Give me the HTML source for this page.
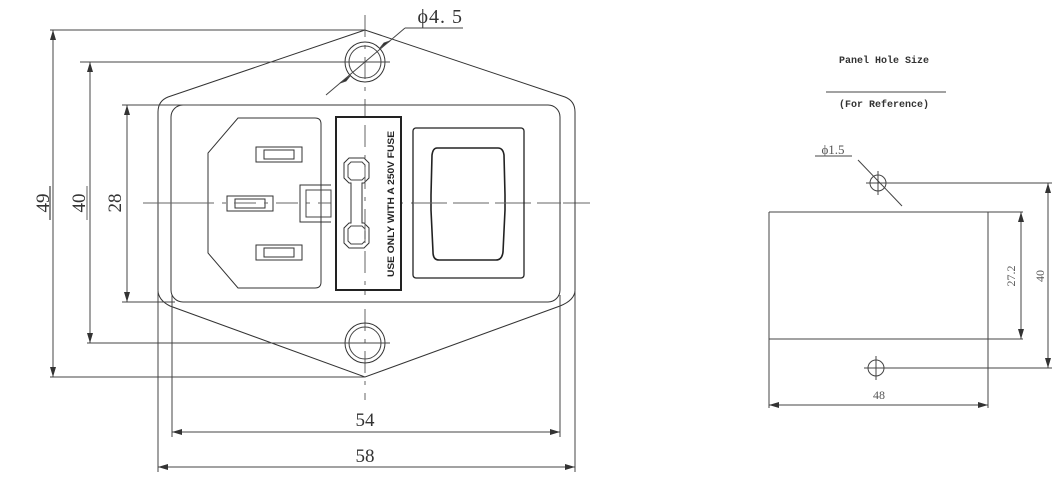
<!DOCTYPE html>
<html><head><meta charset="utf-8"><style>
html,body{margin:0;padding:0;background:#fff;}
svg{display:block;}
</style></head><body>
<svg width="1056" height="482" viewBox="0 0 1056 482" xmlns="http://www.w3.org/2000/svg">
<defs>
<marker id="a" viewBox="0 0 10 6" refX="10" refY="3" markerWidth="10" markerHeight="6" orient="auto-start-reverse" markerUnits="userSpaceOnUse"><path d="M0,0 L10,3 L0,6 Z" fill="#333"/></marker>
</defs>
<g fill="none" stroke="#444" stroke-width="1">
<!-- center lines -->
<line x1="143" y1="203" x2="590" y2="203" stroke-dasharray="22,8,4,8" stroke="#666"/>
<line x1="365" y1="15" x2="365" y2="400" stroke-dasharray="22,8,4,8" stroke="#666"/>
<!-- hexagon -->
<path d="M365,30 L168,97 Q158,101 158,112 L158,290 Q158,300 170,306 L365,377 L560,306 Q575,300 575,290 L575,112 Q575,101 565,97 Z" stroke="#333"/>
<rect x="171" y="105" width="389" height="197" rx="12" fill="#fff" stroke="#333"/>
<line x1="365" y1="105" x2="365" y2="302" stroke-dasharray="22,8,4,8" stroke="#666"/>
<line x1="171" y1="203" x2="560" y2="203" stroke-dasharray="22,8,4,8" stroke="#666"/>
<!-- holes -->
<circle cx="365" cy="62" r="20" stroke="#333"/><circle cx="365" cy="62" r="16"/>
<circle cx="365" cy="343" r="20" stroke="#333"/><circle cx="365" cy="343" r="16"/>
<line x1="340" y1="62" x2="390" y2="62"/><line x1="340" y1="343" x2="390" y2="343"/>
<!-- phi leader -->
<line x1="326" y1="95" x2="405" y2="28"/><line x1="405" y1="28" x2="463" y2="28"/>
<path d="M340,83 L350,76 L346,81 Z" fill="#222"/><path d="M390,41 L380,48 L384,43 Z" fill="#222"/>
<!-- extension lines -->
<line x1="50" y1="30" x2="365" y2="30"/>
<line x1="80" y1="62" x2="345" y2="62"/>
<line x1="122" y1="105" x2="200" y2="105"/>
<line x1="122" y1="302" x2="175" y2="302"/>
<line x1="87" y1="343" x2="345" y2="343"/>
<line x1="50" y1="377" x2="365" y2="377"/>
<line x1="53" y1="30" x2="53" y2="377" marker-start="url(#a)" marker-end="url(#a)"/>
<line x1="90" y1="62" x2="90" y2="343" marker-start="url(#a)" marker-end="url(#a)"/>
<line x1="127" y1="105" x2="127" y2="302" marker-start="url(#a)" marker-end="url(#a)"/>
<line x1="158" y1="290" x2="158" y2="472"/><line x1="575" y1="290" x2="575" y2="472"/>
<line x1="172" y1="295" x2="172" y2="437"/><line x1="560" y1="295" x2="560" y2="437"/>
<line x1="172" y1="432" x2="560" y2="432" marker-start="url(#a)" marker-end="url(#a)"/>
<line x1="158" y1="467" x2="575" y2="467" marker-start="url(#a)" marker-end="url(#a)"/>
<!-- inlet -->
<path d="M238,118 L315,118 Q321,118 321,124 L321,282 Q321,288 315,288 L238,288 L208,253 L208,153 Z" fill="#fff" stroke="#333"/>
<g stroke="#333">
<rect x="256" y="147" width="46" height="15"/><rect x="264" y="150" width="30" height="9"/>
<rect x="227" y="196" width="46" height="15"/><rect x="235" y="199" width="30" height="9"/>
<rect x="256" y="245" width="46" height="15"/><rect x="264" y="248" width="30" height="9"/>
</g>
<line x1="150" y1="203" x2="330" y2="203" stroke-dasharray="22,8,4,8" stroke="#666"/>
<!-- tab -->
<path d="M331,185 L300,185 L300,222 L331,222" stroke="#333"/>
<rect x="306" y="190" width="25" height="27"/>
<!-- fuse box -->
<rect x="336" y="117" width="65" height="173" fill="#fff" stroke="#222" stroke-width="2"/>
<path d="M349,158 L364,158 L369,163 L369,178 L364,183 L362,183 L362,223 L364,223 L369,228 L369,243 L364,248 L349,248 L344,243 L344,228 L349,223 L351,223 L351,183 L349,183 L344,178 L344,163 Z" stroke="#333"/>
<path d="M351,162 L362,162 L365,165 L365,177 L362,180 L351,180 L348,177 L348,165 Z"/>
<path d="M351,226 L362,226 L365,229 L365,241 L362,244 L351,244 L348,241 L348,229 Z"/>
<line x1="365" y1="125" x2="365" y2="285" stroke-dasharray="22,8,4,8" stroke="#666"/>
<!-- switch -->
<rect x="413" y="128" width="111" height="150" rx="3" stroke="#222" stroke-width="1.3"/>
<path d="M437,148 L498,148 Q503,148 504,155 L505,195 L505,210 L503,252 Q502,260 496,260 L439,260 Q433,260 433,252 L431,210 L431,195 L432,155 Q433,148 437,148 Z" stroke="#222" stroke-width="1.6"/>
<line x1="413" y1="203" x2="590" y2="203" stroke-dasharray="22,8,4,8" stroke="#666"/>
</g>
<g font-family="Liberation Serif, serif" fill="#333">
<text x="463" y="23" font-size="20" text-anchor="end" letter-spacing="1">ϕ4. 5</text>
<text x="365" y="426" font-size="19" text-anchor="middle">54</text>
<text x="365" y="462" font-size="19" text-anchor="middle">58</text>
<text transform="translate(49,203) rotate(-90)" font-size="19" text-anchor="middle">49</text>
<text transform="translate(85,203) rotate(-90)" font-size="19" text-anchor="middle">40</text>
<text transform="translate(121,203) rotate(-90)" font-size="19" text-anchor="middle">28</text>
</g>
<line x1="50" y1="186" x2="50" y2="220" stroke="#666" stroke-width="1.5"/>
<line x1="87" y1="186" x2="87" y2="220" stroke="#666" stroke-width="1"/>
<text transform="translate(394,204) rotate(-90)" font-family="Liberation Sans, sans-serif" font-weight="bold" font-size="9.5" text-anchor="middle" fill="#222" textLength="146" lengthAdjust="spacingAndGlyphs">USE ONLY WITH A 250V FUSE</text>

<!-- right panel -->
<g fill="none" stroke="#444" stroke-width="1">
<line x1="826" y1="92" x2="946" y2="92"/>
<line x1="769" y1="212" x2="1023" y2="212"/>
<line x1="769" y1="339" x2="1023" y2="339"/>
<line x1="769" y1="212" x2="769" y2="408"/>
<line x1="988" y1="212" x2="988" y2="408"/>
<line x1="1021" y1="212" x2="1021" y2="339" marker-start="url(#a)" marker-end="url(#a)"/>
<line x1="886" y1="183" x2="1052" y2="183"/>
<line x1="886" y1="368" x2="1052" y2="368"/>
<line x1="1048" y1="183" x2="1048" y2="368" marker-start="url(#a)" marker-end="url(#a)"/>
<line x1="769" y1="405" x2="988" y2="405" marker-start="url(#a)" marker-end="url(#a)"/>
<circle cx="878" cy="183" r="8"/><line x1="866" y1="183" x2="890" y2="183"/><line x1="878" y1="171" x2="878" y2="195"/>
<circle cx="876" cy="368" r="8"/><line x1="864" y1="368" x2="888" y2="368"/><line x1="876" y1="356" x2="876" y2="380"/>
<line x1="858" y1="160" x2="902" y2="206"/>
<line x1="815" y1="156" x2="852" y2="156"/>
</g>
<g font-family="Liberation Mono, monospace" font-weight="bold" fill="#333" font-size="10" text-anchor="middle">
<text x="884" y="63">Panel Hole Size</text>
<text x="884" y="107">(For Reference)</text>
</g>
<g font-family="Liberation Serif, serif" fill="#555">
<text x="833" y="154" font-size="13" text-anchor="middle">ϕ1.5</text>
<text x="879" y="399" font-size="12" text-anchor="middle">48</text>
<text transform="translate(1015,276) rotate(-90)" font-size="12" text-anchor="middle">27.2</text>
<text transform="translate(1044,276) rotate(-90)" font-size="12" text-anchor="middle">40</text>
</g>
</svg>
</body></html>
